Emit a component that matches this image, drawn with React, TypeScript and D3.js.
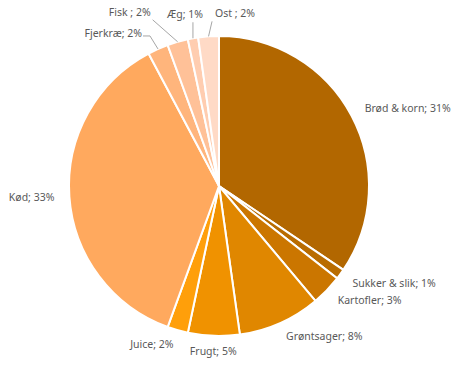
import { useRef, useEffect } from 'react';
import * as d3 from 'd3';

const categories = ['Brød & korn', 'Sukker & slik', 'Kartofler', 'Grøntsager', 'Frugt', 'Juice', 'Kød', 'Fjerkræ', 'Fisk ', 'Æg', 'Ost '];
const values = [31, 1, 3, 8, 5, 2, 33, 2, 2, 1, 2];
const colors = ['#B26700', '#B96C00', '#CB7600', '#E08700', '#F09200', '#FF9F0A', '#FFA95E', '#FFB57C', '#FFC198', '#FFCDB0', '#FFDAC6'];

// labels that sit outside with a leader line: elbow offset from the slice edge
const leaders: Record<string, { ex: number; ey: number; hx: number; tx: number; anchor: string }> = {
  'Fjerkræ': { ex: -8, ey: -13, hx: -7, tx: -1, anchor: 'end' },
  'Fisk ': { ex: -25, ey: -22, hx: 0, tx: -2, anchor: 'end' },
  'Æg': { ex: 0, ey: -16, hx: 0, tx: -8, anchor: 'middle' },
  'Ost ': { ex: 3.5, ey: -15, hx: 0, tx: 3, anchor: 'start' },
};

const W = 458;
const H = 367;

const PieChart = () => {
  const ref = useRef<SVGSVGElement>(null);

  useEffect(() => {
    document.body.style.margin = '0';
    const svg = d3.select(ref.current);
    svg.selectAll('*').remove();

    const cx = 219;
    const cy = 186;
    const r = 150;

    const data = categories.map((c, i) => ({ name: c, value: values[i], color: colors[i] }));
    const pie = d3.pie<any>().value(d => d.value).sort(null);
    const arcs = pie(data);
    const arc = d3.arc<any>().innerRadius(0).outerRadius(r);

    const g = svg.append('g').attr('transform', `translate(${cx},${cy})`);

    g.selectAll('path')
      .data(arcs)
      .enter().append('path')
      .attr('d', arc)
      .attr('fill', d => d.data.color)
      .attr('stroke', '#fff')
      .attr('stroke-width', 2);

    const labelR = 165;
    const font = "'Noto Sans', sans-serif";
    const fs = 10.5;

    arcs.forEach(d => {
      const mid = (d.startAngle + d.endAngle) / 2;
      const txt = `${d.data.name}; ${d.data.value}%`;
      const L = leaders[d.data.name];
      if (L) {
        const ex = Math.sin(mid) * r;
        const ey = -Math.cos(mid) * r;
        const bx = ex + L.ex;
        const by = ey + L.ey;
        const pts: [number, number][] = [[ex, ey], [bx, by]];
        if (L.hx) pts.push([bx + L.hx, by]);
        g.append('path')
          .attr('d', d3.line()(pts))
          .attr('fill', 'none')
          .attr('stroke', '#A6A6A6')
          .attr('stroke-width', 1);
        const tx = bx + L.hx + L.tx;
        const ty = by - (L.hx ? 3 : 8);
        g.append('text')
          .attr('x', tx)
          .attr('y', ty)
          .attr('dy', '0.35em')
          .attr('text-anchor', L.anchor)
          .attr('font-family', font)
          .attr('font-size', fs)
          .attr('fill', '#595959')
          .text(txt);
        return;
      }
      const x = Math.sin(mid) * labelR;
      const y = -Math.cos(mid) * labelR;
      const s = Math.sin(mid);
      const anchor = Math.abs(s) < 0.1 ? 'middle' : s > 0 ? 'start' : 'end';
      g.append('text')
        .attr('x', x)
        .attr('y', y)
        .attr('dy', '0.35em')
        .attr('text-anchor', anchor)
        .attr('font-family', font)
        .attr('font-size', fs)
        .attr('fill', '#595959')
        .text(txt);
    });
  }, []);

  return <svg ref={ref} width={W} height={H} style={{ display: 'block', background: '#fff' }}></svg>;
};

export default function App() {
  return <PieChart />;
}
